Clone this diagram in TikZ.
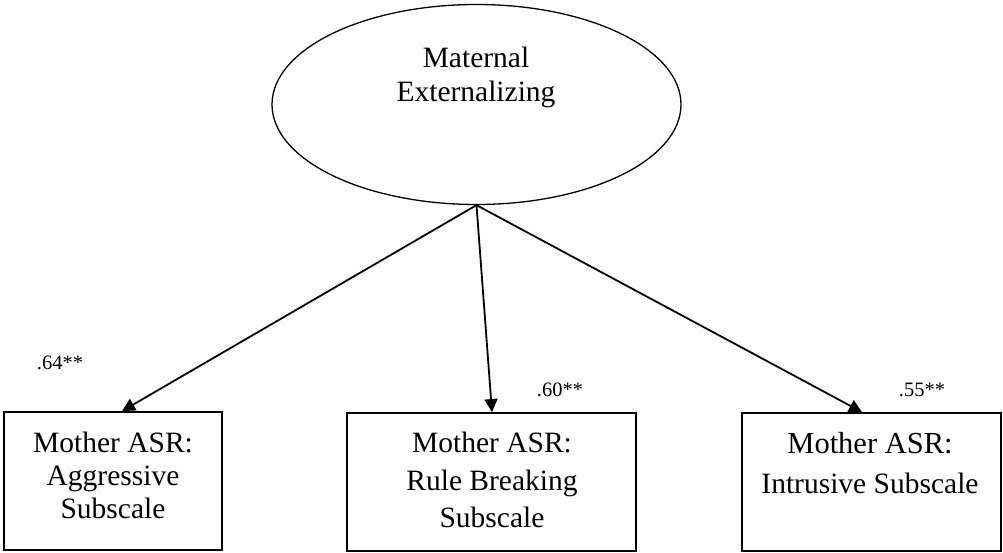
\documentclass[tikz,border=0pt]{standalone}
\usepackage{fontspec}
\setmainfont{Liberation Serif}
\usetikzlibrary{shapes.geometric,arrows.meta}
\begin{document}
\begin{tikzpicture}[x=1pt,y=-1pt,
  boxstyle/.style={draw,line width=1.8pt,rectangle,inner sep=0pt},
  txt/.style={align=center,inner sep=0pt,font=\fontsize{29.5}{34}\selectfont},
  coef/.style={inner sep=0pt,font=\fontsize{20.5}{24}\selectfont},
  arr/.style={line width=1.8pt,-{Triangle[length=13pt,width=13pt]}}]
\useasboundingbox (0,0) rectangle (1003,553);
\node[draw,ellipse,line width=1.3pt,minimum width=409pt,minimum height=200pt,inner sep=0pt] (lat) at (476.5,104.5) {};
\node[txt,anchor=base] (latA) at (476,68) {Maternal};
\node[txt,anchor=base] (latB) at (476,102) {Externalizing};
\node[boxstyle,minimum width=218pt,minimum height=138pt] (b1) at (113,481) {};
\node[boxstyle,minimum width=289pt,minimum height=138pt] (b2) at (491.5,482) {};
\node[boxstyle,minimum width=259pt,minimum height=138pt] (b3) at (871.5,482) {};
\node[txt,anchor=base] (t1a) at (113,452) {Mother ASR:};
\node[txt,anchor=base] (t1b) at (113,485) {Aggressive};
\node[txt,anchor=base] (t1c) at (113,518) {Subscale};
\node[txt,anchor=base] (t2a) at (492,452) {Mother ASR:};
\node[txt,anchor=base] (t2b) at (492,490) {Rule Breaking};
\node[txt,anchor=base] (t2c) at (492,527) {Subscale};
\node[txt,anchor=base,font=\fontsize{30.5}{34}\selectfont] (t3a) at (870,453) {Mother ASR:};
\node[txt,anchor=base] (t3b) at (870,493) {Intrusive Subscale};
\node[coef] (c1) at (60,363) {.64**};
\node[coef] (c2) at (560,390) {.60**};
\node[coef] (c3) at (922,390) {.55**};
\coordinate (src) at (lat.south);
\draw[arr] (src) -- ([xshift=9pt]b1.north);
\draw[arr] (src) -- ([xshift=0.5pt]b2.north);
\draw[arr] (src) -- ([xshift=-9.5pt]b3.north);
\end{tikzpicture}
\end{document}
